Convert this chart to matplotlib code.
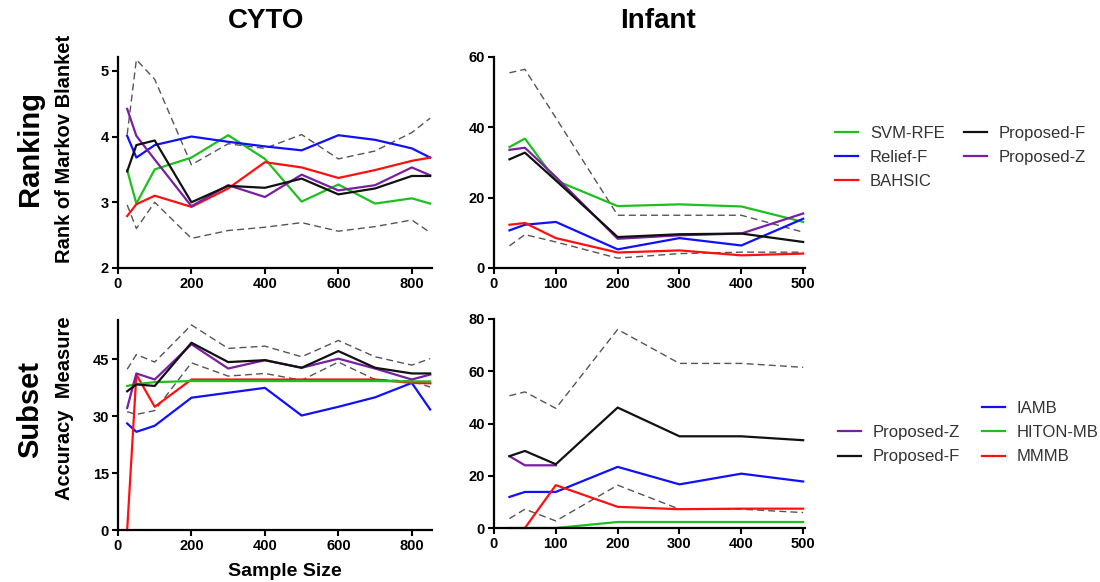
import numpy as np
import matplotlib
matplotlib.use('Agg')
import matplotlib.pyplot as plt
from matplotlib.lines import Line2D

plt.rcParams['font.family'] = ['Liberation Sans', 'DejaVu Sans']

# sample sizes
x_cyto = [25, 50, 100, 200, 300, 400, 500, 600, 700, 800, 850]
x_inf = [25, 50, 100, 200, 300, 400, 500]

# Ranking - CYTO
rk_cyto_svm = [3.49, 2.98, 3.50, 3.68, 4.02, 3.66, 3.01, 3.27, 2.98, 3.06, 2.98]
rk_cyto_relief = [4.01, 3.68, 3.87, 4.00, 3.92, 3.85, 3.79, 4.02, 3.95, 3.82, 3.68]
rk_cyto_bahsic = [2.79, 2.97, 3.10, 2.93, 3.21, 3.61, 3.53, 3.37, 3.49, 3.63, 3.68]
rk_cyto_propF = [3.47, 3.87, 3.94, 3.00, 3.25, 3.22, 3.36, 3.12, 3.21, 3.40, 3.40]
rk_cyto_propZ = [4.42, 4.01, 3.65, 2.94, 3.26, 3.08, 3.42, 3.18, 3.26, 3.53, 3.41]
rk_cyto_hi = [4.03, 5.17, 4.87, 3.57, 3.89, 3.82, 4.03, 3.66, 3.78, 4.06, 4.28]
rk_cyto_lo = [2.96, 2.60, 3.00, 2.45, 2.57, 2.62, 2.69, 2.56, 2.63, 2.73, 2.54]

# Ranking - Infant
rk_inf_svm = [34.4, 36.8, 24.9, 17.6, 18.1, 17.5, 13.1]
rk_inf_relief = [10.7, 12.3, 13.1, 5.3, 8.5, 6.4, 14.0]
rk_inf_bahsic = [12.3, 12.8, 8.5, 4.4, 5.0, 3.6, 4.1]
rk_inf_propF = [30.9, 32.8, 24.9, 8.8, 9.6, 9.8, 7.4]
rk_inf_propZ = [33.6, 34.2, 25.9, 8.3, 9.3, 9.8, 15.5]
rk_inf_hi = [55.5, 56.5, 42.7, 15.0, 15.0, 15.0, 10.2]
rk_inf_lo = [6.3, 9.5, 7.4, 2.8, 4.1, 4.5, 4.5]

# Subset - CYTO
ss_cyto_propF = [36.6, 38.4, 38.0, 49.4, 44.3, 44.8, 42.8, 47.2, 42.8, 41.3, 41.3]
ss_cyto_propZ = [32.2, 41.3, 39.7, 49.0, 42.6, 44.8, 42.8, 45.2, 42.6, 39.7, 41.0]
ss_cyto_iamb = [28.1, 25.9, 27.5, 34.9, 36.2, 37.5, 30.2, 32.5, 35.0, 38.8, 31.8]
ss_cyto_hiton = [38.0, 38.5, 39.0, 39.3, 39.3, 39.3, 39.3, 39.3, 39.3, 39.2, 39.2]
ss_cyto_mmmb = [0.0, 41.0, 32.5, 39.7, 39.7, 39.7, 39.7, 39.7, 39.7, 38.8, 38.7]
ss_cyto_hi = [42.4, 46.3, 44.3, 54.1, 47.9, 48.5, 45.7, 50.0, 45.7, 43.5, 45.2]
ss_cyto_lo = [31.2, 30.5, 31.5, 44.1, 40.6, 41.3, 39.5, 44.3, 39.7, 39.3, 37.7]

# Subset - Infant
ss_inf_propF = [27.5, 29.5, 24.4, 46.1, 35.1, 35.1, 33.6]
ss_inf_propZ = [27.5, 24.0, 24.0, np.nan, np.nan, np.nan, np.nan]
ss_inf_iamb = [11.9, 13.8, 13.8, 23.4, 16.7, 20.8, 17.8]
ss_inf_hiton = [0.0, 0.0, 0.0, 2.3, 2.3, 2.3, 2.3]
ss_inf_mmmb = [np.nan, 0.0, 16.4, 8.1, 7.2, 7.4, 7.4]
ss_inf_hi = [50.6, 52.1, 45.8, 76.0, 63.0, 63.0, 61.5]
ss_inf_lo = [3.6, 7.2, 2.7, 16.4, 7.2, 7.2, 5.9]

GREEN = '#1fbf1f'
BLUE = '#1010ff'
RED = '#ff1010'
BLACK = '#111111'
PURPLE = '#7b1fa2'
DASH = '#555555'

fig = plt.figure(figsize=(11, 5.82), dpi=100)

W, H = 1100.0, 582.0
def make_ax(x0, y0, x1, y1):
    return fig.add_axes([x0 / W, 1 - y1 / H, (x1 - x0) / W, (y1 - y0) / H])

ax_tl = make_ax(118, 57, 432, 268)
ax_tr = make_ax(494, 57, 805, 268)
ax_bl = make_ax(118, 320, 432, 530)
ax_br = make_ax(494, 319, 805, 528)

def style(ax, xlim, xticks, ylim, yticks):
    ax.set_xlim(*xlim)
    ax.set_ylim(*ylim)
    ax.set_xticks(xticks)
    ax.set_yticks(yticks)
    for s in ['top', 'right']:
        ax.spines[s].set_visible(False)
    for s in ['left', 'bottom']:
        ax.spines[s].set_linewidth(1.6)
    ax.tick_params(direction='out', length=4.5, width=1.5, labelsize=10.5, pad=2)
    for lab in ax.get_xticklabels() + ax.get_yticklabels():
        lab.set_fontweight('bold')

def dashed(ax, x, y):
    ax.plot(x, y, color=DASH, lw=1.0, ls=(0, (5, 3)), clip_on=False)

def line(ax, x, y, c):
    ax.plot(x, y, color=c, lw=1.6, clip_on=False)

# top-left
dashed(ax_tl, x_cyto, rk_cyto_hi)
dashed(ax_tl, x_cyto, rk_cyto_lo)
line(ax_tl, x_cyto, rk_cyto_svm, GREEN)
line(ax_tl, x_cyto, rk_cyto_relief, BLUE)
line(ax_tl, x_cyto, rk_cyto_bahsic, RED)
line(ax_tl, x_cyto, rk_cyto_propZ, PURPLE)
line(ax_tl, x_cyto, rk_cyto_propF, BLACK)
style(ax_tl, (0, 855), [0, 200, 400, 600, 800], (2, 5.21), [2, 3, 4, 5])

# top-right
dashed(ax_tr, x_inf, rk_inf_hi)
dashed(ax_tr, x_inf, rk_inf_lo)
line(ax_tr, x_inf, rk_inf_svm, GREEN)
line(ax_tr, x_inf, rk_inf_relief, BLUE)
line(ax_tr, x_inf, rk_inf_bahsic, RED)
line(ax_tr, x_inf, rk_inf_propZ, PURPLE)
line(ax_tr, x_inf, rk_inf_propF, BLACK)
style(ax_tr, (0, 503), [0, 100, 200, 300, 400, 500], (0, 60), [0, 20, 40, 60])

# bottom-left
dashed(ax_bl, x_cyto, ss_cyto_hi)
dashed(ax_bl, x_cyto, ss_cyto_lo)
line(ax_bl, x_cyto, ss_cyto_iamb, BLUE)
line(ax_bl, x_cyto, ss_cyto_mmmb, RED)
line(ax_bl, x_cyto, ss_cyto_hiton, GREEN)
line(ax_bl, x_cyto, ss_cyto_propZ, PURPLE)
line(ax_bl, x_cyto, ss_cyto_propF, BLACK)
style(ax_bl, (0, 855), [0, 200, 400, 600, 800], (0, 55.4), [0, 15, 30, 45])

# bottom-right
dashed(ax_br, x_inf, ss_inf_hi)
dashed(ax_br, x_inf, ss_inf_lo)
line(ax_br, x_inf, ss_inf_iamb, BLUE)
line(ax_br, x_inf, ss_inf_mmmb, RED)
line(ax_br, x_inf, ss_inf_hiton, GREEN)
line(ax_br, x_inf, ss_inf_propZ, PURPLE)
line(ax_br, x_inf, ss_inf_propF, BLACK)
style(ax_br, (0, 503), [0, 100, 200, 300, 400, 500], (0, 80), [0, 20, 40, 60, 80])

# titles and labels
fig.text(266 / W, 1 - 21 / H, 'CYTO', ha='center', va='center', fontsize=20, fontweight='bold')
fig.text(658 / W, 1 - 21 / H, 'Infant', ha='center', va='center', fontsize=20, fontweight='bold')
fig.text(30 / W, 1 - 148 / H, 'Ranking', ha='center', va='center', rotation=90, fontsize=21, fontweight='bold')
fig.text(30 / W, 1 - 410 / H, 'Subset', ha='center', va='center', rotation=90, fontsize=21, fontweight='bold')
fig.text(64 / W, 1 - 149 / H, 'Rank of Markov Blanket', ha='center', va='center', rotation=90, fontsize=14.5, fontweight='bold')
fig.text(64 / W, 1 - 408 / H, 'Accuracy  Measure', ha='center', va='center', rotation=90, fontsize=14.5, fontweight='bold')
fig.text(285 / W, 1 - 571 / H, 'Sample Size', ha='center', va='center', fontsize=14, fontweight='bold')

def h(c):
    return Line2D([], [], color=c, lw=1.6)

leg1 = fig.legend([h(GREEN), h(BLUE), h(RED), h(BLACK), h(PURPLE)],
                  ['SVM-RFE', 'Relief-F', 'BAHSIC', 'Proposed-F', 'Proposed-Z'],
                  ncol=2, loc='upper left', bbox_to_anchor=(835 / W, 1 - 126 / H),
                  frameon=False, fontsize=12, handlelength=1.4, handletextpad=0.7,
                  labelspacing=0.55, columnspacing=1.15, borderpad=0, borderaxespad=0)
for t in leg1.get_texts():
    t.set_color('#333333')

blank = Line2D([], [], color='none')
leg2 = fig.legend([blank, h(PURPLE), h(BLACK), h(BLUE), h(GREEN), h(RED)],
                  ['', 'Proposed-Z', 'Proposed-F', 'IAMB', 'HITON-MB', 'MMMB'],
                  ncol=2, loc='upper left', bbox_to_anchor=(838 / W, 1 - 401 / H),
                  frameon=False, fontsize=12, handlelength=1.4, handletextpad=0.7,
                  labelspacing=0.55, columnspacing=1.3, borderpad=0, borderaxespad=0)
for t in leg2.get_texts():
    t.set_color('#333333')

fig.savefig('out.png', dpi=100)
